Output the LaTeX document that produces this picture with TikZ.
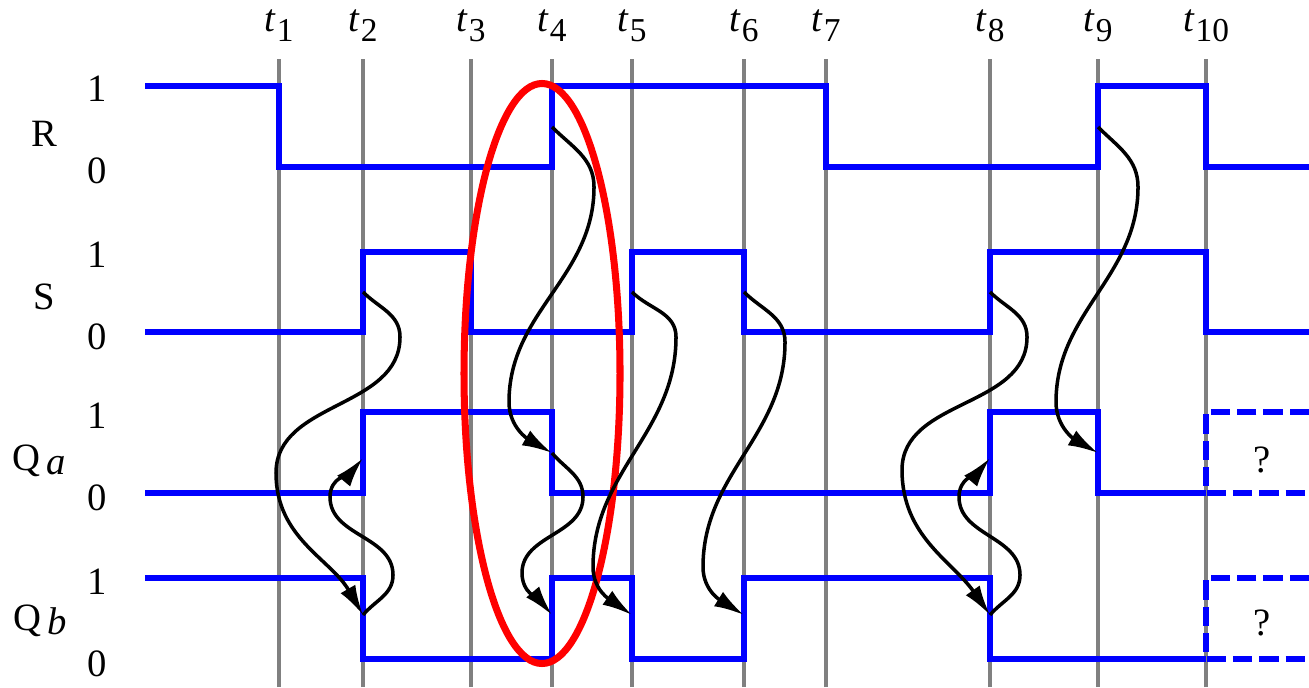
\documentclass[tikz,border=0pt]{standalone}
\usepackage{fontspec}
\setmainfont{Liberation Serif}
\usetikzlibrary{arrows.meta}
\newcommand{\tname}[1]{\textit{t}\kern0.3pt\raisebox{-2.8pt}{\fontsize{9.5}{9.5}\selectfont #1}}

\begin{document}
\begin{tikzpicture}[
  font=\fontsize{11}{13}\selectfont,
  grid/.style={gray,line width=0.9pt},
  wave/.style={blue,line width=1.8pt,line join=miter},
  unknown/.style={wave,dash pattern=on 5.5pt off 2pt},
  causal/.style={-{Latex[length=3mm,width=1.7mm]},line width=1pt},
  ring/.style={red,line width=2pt},
  lab/.style={anchor=base,inner sep=0pt}]
\useasboundingbox (0,0) rectangle (13.09,6.87);
% time marks
\foreach \x/\n in {2.79/1,3.63/2,4.71/3,5.52/4,6.32/5,7.44/6,8.26/7,9.90/8,10.98/9,12.06/10}{
  \draw[grid] (\x,0) -- (\x,6.28);
  \node[lab] (t\n) at (\x,6.55) {\tname{\n}};
}
% signal names
\node[lab] (nR) at (0.44,5.40) {R};
\node[lab] (nS) at (0.44,3.77) {S};
\node[lab] (nQa) at (0.39,2.17) {Q\,\raisebox{-1.4pt}{\textit{a}}};
\node[lab] (nQb) at (0.40,0.57) {Q\,\raisebox{-1.4pt}{\textit{b}}};
\foreach \hi/\lo [count=\i] in {6.01/5.20,4.35/3.55,2.75/1.94,1.09/0.28}{
  \node[lab] (hi\i) at (0.97,\hi-0.16) {1};
  \node[lab] (lo\i) at (0.97,\lo-0.17) {0};
}
% waveforms
\draw[wave] (1.45,6.01) -| (2.79,5.20) -| (5.52,6.01) -| (8.26,5.20) -| (10.98,6.01) -| (12.06,5.20) -- (13.09,5.20);
\draw[wave] (1.45,3.55) -| (3.63,4.35) -| (4.71,3.55) -| (6.32,4.35) -| (7.44,3.55) -| (9.90,4.35) -| (12.06,3.55) -- (13.09,3.55);
\draw[wave] (1.45,1.94) -| (3.63,2.75) -| (5.52,1.94) -| (9.90,2.75) -| (10.98,1.94) -- (12.06,1.94);
\draw[wave] (1.45,1.09) -| (3.63,0.28) -| (5.52,1.09) -| (6.32,0.28) -| (7.44,1.09) -| (9.90,0.28) -- (12.06,0.28);
\draw[unknown] (13.09,2.75) -- (12.06,2.75) -- (12.06,1.94) -- (13.09,1.94);
\draw[unknown] (13.09,1.09) -- (12.06,1.09) -- (12.06,0.28) -- (13.09,0.28);
\node[lab] (uQa) at (12.62,2.15) {?};
\node[lab] (uQb) at (12.62,0.52) {?};
% highlighted transition
\draw[ring] (5.42,3.135) ellipse [x radius=0.78, y radius=2.90];
% edge points
\coordinate (s2) at (3.63,3.95);
\coordinate (qa2) at (3.63,2.29);
\coordinate (qb2) at (3.63,0.72);
\coordinate (r4) at (5.52,5.60);
\coordinate (qa4) at (5.52,2.34);
\coordinate (qb4) at (5.52,0.72);
\coordinate (s5) at (6.32,3.95);
\coordinate (qb5) at (6.32,0.72);
\coordinate (s6) at (7.44,3.95);
\coordinate (qb6) at (7.44,0.72);
\coordinate (s8) at (9.90,3.95);
\coordinate (qa8) at (9.90,2.29);
\coordinate (qb8) at (9.90,0.72);
\coordinate (r9) at (10.98,5.60);
\coordinate (qa9) at (10.98,2.34);
% causes
\draw[causal] (s2) to[out=-45,in=90] (4.00,3.50) to[out=-90,in=90] (2.76,2.14) to[out=-90,in=120] (qb2);
\draw[causal] (qb2) to[out=50,in=-90] (3.93,1.12) to[out=90,in=-90] (3.30,1.90) to[out=90,in=-130] (qa2);
\draw[causal] (r4) to[out=-45,in=90] (5.94,5.00) to[out=-90,in=90] (5.09,2.85) to[out=-90,in=150] (qa4);
\draw[causal] (qa4) to[out=-50,in=90] (5.83,1.90) to[out=-90,in=90] (5.22,1.14) to[out=-90,in=130] (qb4);
\draw[causal] (s5) to[out=-45,in=90] (6.76,3.50) to[out=-90,in=90] (5.93,1.20) to[out=-90,in=145] (qb5);
\draw[causal] (s6) to[out=-45,in=90] (7.85,3.45) to[out=-90,in=90] (7.03,1.20) to[out=-90,in=148] (qb6);
\draw[causal] (s8) to[out=-45,in=90] (10.27,3.50) to[out=-90,in=90] (9.02,2.17) to[out=-90,in=125] (qb8);
\draw[causal] (qb8) to[out=50,in=-90] (10.20,1.12) to[out=90,in=-90] (9.59,1.90) to[out=90,in=-130] (qa8);
\draw[causal] (r9) to[out=-45,in=90] (11.38,5.00) to[out=-90,in=90] (10.56,2.85) to[out=-90,in=150] (qa9);
\end{tikzpicture}
\end{document}
